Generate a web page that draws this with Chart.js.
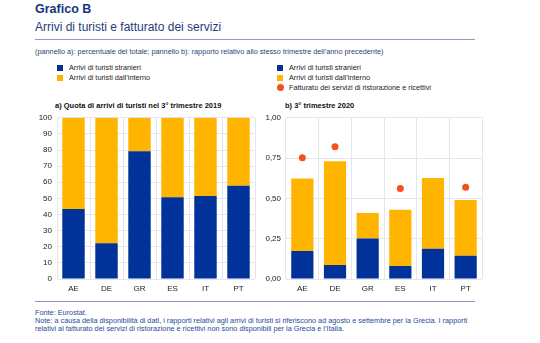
<!DOCTYPE html>
<html>
<head>
<meta charset="utf-8">
<script src="https://cdn.jsdelivr.net/npm/chart.js@4.4.0/dist/chart.umd.min.js"></script>
<style>
body { margin:0; width:540px; height:343px; background:#fff; font-family:"Liberation Sans", Arial, sans-serif; color:#1b3a78; position:relative; overflow:hidden; }
.t { position:absolute; white-space:nowrap; }
.sq { position:absolute; width:6px; height:6px; }
.dot { position:absolute; width:7px; height:7px; border-radius:50%; }
.box { position:absolute; }
</style>
</head>
<body>
<div class="t" style="left:35px;top:2px;font-size:12.5px;font-weight:bold;color:#17357a">Grafico B</div>
<div class="t" style="left:35px;top:20px;font-size:12px;color:#1f3c7a">Arrivi di turisti e fatturato dei servizi</div>
<div style="position:absolute;left:35px;top:39px;width:440px;height:1px;background:#8e9cc4"></div>
<div class="t" style="left:35px;top:47px;font-size:7.3px;color:#2a3f78">(pannello a): percentuale del totale; pannello b): rapporto relativo allo stesso trimestre dell’anno precedente)</div>

<div class="sq" style="left:57px;top:65px;background:#003299"></div>
<div class="t" style="left:69px;top:63px;font-size:7.3px;color:#222">Arrivi di turisti stranieri</div>
<div class="sq" style="left:57px;top:75px;background:#ffb400"></div>
<div class="t" style="left:69px;top:73px;font-size:7.3px;color:#222">Arrivi di turisti dall’interno</div>

<div class="sq" style="left:277px;top:65px;background:#003299"></div>
<div class="t" style="left:289px;top:63px;font-size:7.3px;color:#222">Arrivi di turisti stranieri</div>
<div class="sq" style="left:277px;top:75px;background:#ffb400"></div>
<div class="t" style="left:289px;top:73px;font-size:7.3px;color:#222">Arrivi di turisti dall’interno</div>
<div class="dot" style="left:277px;top:84px;background:#f4511e"></div>
<div class="t" style="left:289px;top:83px;font-size:7.3px;color:#222">Fatturato dei servizi di ristorazione e ricettivi</div>

<div class="t" style="left:55px;top:101px;font-size:7.5px;font-weight:bold;color:#111">a) Quota di arrivi di turisti nel 3° trimestre 2019</div>
<div class="t" style="left:285px;top:101px;font-size:7.5px;font-weight:bold;color:#111">b) 3° trimestre 2020</div>

<div class="box" style="left:20px;top:108px;width:240px;height:188px"><canvas id="chartA"></canvas></div>
<div class="box" style="left:250px;top:108px;width:240px;height:188px"><canvas id="chartB"></canvas></div>

<div style="position:absolute;left:35px;top:301px;width:440px;height:1px;background:#8e9cc4"></div>
<div class="t" style="left:35px;top:308px;font-size:7.3px;color:#1f4a9a">Fonte: Eurostat.</div>
<div class="t" style="left:35px;top:316px;font-size:7.3px;color:#1f4a9a">Note: a causa della disponibilità di dati, i rapporti relativi agli arrivi di turisti si riferiscono ad agosto e settembre per la Grecia. I rapporti</div>
<div class="t" style="left:35px;top:324px;font-size:7.3px;color:#1f4a9a">relativi al fatturato dei servizi di ristorazione e ricettivi non sono disponibili per la Grecia e l’Italia.</div>

<script>
const countries = ['AE', 'DE', 'GR', 'ES', 'IT', 'PT'];

// panel a) share of arrivals, Q3 2019 (percent)
const foreignShare2019 = [43.4, 22.2, 79.3, 50.7, 51.5, 57.8];
const domesticShare2019 = [56.6, 77.8, 20.7, 49.3, 48.5, 42.2];

// panel b) ratio to same quarter of previous year, Q3 2020
const foreignRatio2020 = [0.173, 0.087, 0.252, 0.081, 0.187, 0.144];
const domesticRatio2020 = [0.451, 0.643, 0.158, 0.349, 0.439, 0.346];
const turnoverRatio2020 = [0.752, 0.82, null, 0.561, null, 0.569];

const ticksA = [0, 10, 20, 30, 40, 50, 60, 70, 80, 90, 100];
const ticksB = ['0,00', '0,25', '0,50', '0,75', '1,00'];

const BLUE = '#003299';
const YELLOW = '#ffb400';
const ORANGE = '#f4511e';
const GRID = '#e4e5ee';

Chart.defaults.font.family = '"Liberation Sans", Arial, sans-serif';
Chart.defaults.font.size = 8;
Chart.defaults.color = '#222';
Chart.defaults.animation = false;

function baseScales(yMax, yStep, yLeftWidth, tickFmt) {
	return {
		x: {
			stacked: true,
			grid: { color: GRID, drawTicks: false },
			border: { display: false },
			ticks: { padding: 5, font: { size: 8 } },
			afterFit: function(s) { s.height = 17; }
		},
		y: {
			stacked: true,
			min: 0,
			max: yMax,
			grid: { color: GRID, drawTicks: false },
			border: { display: false },
			ticks: { stepSize: yStep, padding: 5, font: { size: 8 }, callback: tickFmt },
			afterFit: function(s) { s.width = yLeftWidth; }
		}
	};
}

new Chart(document.getElementById('chartA'), {
	type: 'bar',
	data: {
		labels: countries,
		datasets: [
			{ label: 'Arrivi di turisti stranieri', data: foreignShare2019, backgroundColor: BLUE, categoryPercentage: 1, barPercentage: 0.68 },
			{ label: 'Arrivi di turisti dall’interno', data: domesticShare2019, backgroundColor: YELLOW, categoryPercentage: 1, barPercentage: 0.68 }
		]
	},
	options: {
		responsive: true,
		maintainAspectRatio: false,
		layout: { padding: { top: 7, right: 5, left: 0, bottom: 0 } },
		plugins: { legend: { display: false }, tooltip: { enabled: false } },
		scales: baseScales(100, 10, 37, function(v) { return ticksA.includes(v) ? String(v) : ''; })
	}
});

new Chart(document.getElementById('chartB'), {
	type: 'bar',
	data: {
		labels: countries,
		datasets: [
			{ label: 'Arrivi di turisti stranieri', data: foreignRatio2020, backgroundColor: BLUE, categoryPercentage: 1, barPercentage: 0.68, order: 2 },
			{ label: 'Arrivi di turisti dall’interno', data: domesticRatio2020, backgroundColor: YELLOW, categoryPercentage: 1, barPercentage: 0.68, order: 2 },
			{ type: 'line', label: 'Fatturato dei servizi di ristorazione e ricettivi', data: turnoverRatio2020, stack: 'dots',
			  showLine: false, pointRadius: 3.5, pointBackgroundColor: ORANGE, pointBorderWidth: 0, borderColor: ORANGE, order: 1 }
		]
	},
	options: {
		responsive: true,
		maintainAspectRatio: false,
		layout: { padding: { top: 7, right: 8, left: 0, bottom: 0 } },
		plugins: { legend: { display: false }, tooltip: { enabled: false } },
		scales: baseScales(1, 0.25, 36, function(v) { return ticksB[Math.round(v * 4)]; })
	}
});
</script>
</body>
</html>
